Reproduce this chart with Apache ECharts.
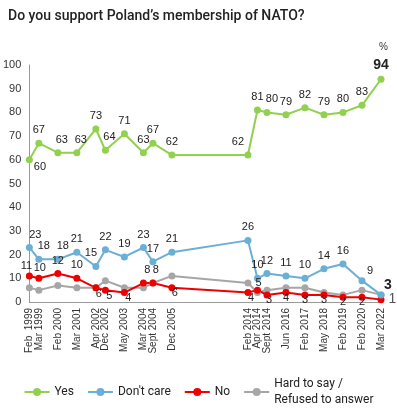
<!DOCTYPE html>
<html>
<head>
<meta charset="utf-8">
<script src="https://cdn.jsdelivr.net/npm/echarts@6/dist/echarts.min.js"></script>
<style>
html,body{margin:0;padding:0;background:#fff;}
#chart{width:397px;height:416px;}
</style>
</head>
<body>
<div id="chart"></div>
<script>
// Category slots (blank slots keep the reference's uneven spacing)
const categories = ['Feb  1999','Mar 1999','','Feb 2000','','Mar 2001','','Apr 2002','Dec 2002','','May 2003','','Mar 2004','Sept 2004','','Dec 2005','','','','','','','','Feb 2014','Apr 2014','Sept 2014','','Jun 2016','','Feb 2017','','May 2018','','Feb 2019','','Feb 2020','','Mar 2022'];

// Values per survey (19 surveys, in order)
const yesValues      = [60, 67, 63, 63, 73, 64, 71, 63, 67, 62, 62, 81, 80, 79, 82, 79, 80, 83, 94];
const dontCareValues = [23, 18, 18, 21, 15, 22, 19, 23, 17, 21, 26, 10, 12, 11, 10, 14, 16, 9, 3];
const noValues       = [11, 10, 12, 10, 6, 5, 4, 8, 8, 6, 4, 5, 3, 4, 3, 3, 2, 2, 1];
const hardValues     = [6, 5, 7, 6, 6, 9, 6, 6, 8, 11, 8, 4, 5, 6, 6, 4, 3, 5, 3];

const yTicks = [0, 10, 20, 30, 40, 50, 60, 70, 80, 90, 100];

const seriesNames = ['Yes', "Don't care", 'No', 'Hard to say /\nRefused to answer'];

// Label styling per survey (style only)
const yesLabel = [
  {position:'right', offset:[-3,7]}, {}, {offset:[4,0]}, {offset:[4,0]}, {}, {offset:[4,0]}, {}, {}, {}, {},
  {offset:[-10,0]}, {}, {offset:[5,0]}, {}, {}, {}, {}, {}, {big:true}
];
const dcLabel = [
  {offset:[6,0]}, {offset:[5,0]}, {offset:[5,0]}, {}, {offset:[-5,0]}, {}, {}, {}, {}, {},
  {}, {}, {}, {}, {}, {}, {}, {offset:[8,3]}, {big:true, offset:[7,5]}
];
const noLabel = [
  {offset:[-3,3]}, {offset:[1,3]}, {}, {}, {position:'bottom', offset:[3,-5]}, {position:'bottom', offset:[4,-5]}, {position:'bottom', offset:[4,-6]},
  {offset:[4,0]}, {hide:true}, {position:'bottom', offset:[3,-6]},
  {position:'bottom', offset:[3,-6]}, {offset:[1,6]}, {position:'bottom', offset:[2,-6]}, {position:'bottom', offset:[0,-6]},
  {position:'bottom', offset:[0,-6]}, {position:'bottom', offset:[0,-6]}, {position:'bottom', offset:[0,-6]}, {position:'bottom', offset:[0,-6]},
  {position:'right', offset:[0,0], big:true, color:'#555', weight:'normal'}
];
const hardLabel = hardValues.map((v, i) => (i === 8 ? {offset:[3,0]} : {hide:true}));

function build(values, labels) {
  const out = [];
  let k = 0;
  categories.forEach(c => {
    if (c === '') { out.push(null); return; }
    const v = values[k];
    const l = labels[k] || {};
    k++;
    const label = {
      show: !l.hide,
      position: l.position || 'top',
      offset: l.offset || [0, 0],
      distance: l.position === 'bottom' ? 2 : 4,
      fontSize: l.big ? 14 : 11,
      fontWeight: l.big ? (l.weight || 'bold') : 'normal',
      color: l.color || '#222',
      fontFamily: 'Liberation Sans, Arial, sans-serif'
    };
    out.push({ value: v, label: label });
  });
  return out;
}

const chart = echarts.init(document.getElementById('chart'), null, {renderer: 'canvas'});

function lineSeries(name, color, values, labels) {
  return {
    name: name,
    type: 'line',
    data: build(values, labels),
    connectNulls: true,
    symbol: 'circle',
    symbolSize: 7,
    lineStyle: {color: color, width: 2},
    itemStyle: {color: color},
    emphasis: {disabled: true},
    animation: false
  };
}

chart.setOption({
  animation: false,
  backgroundColor: '#fff',
  title: [
    {
      text: 'Do you support Poland\u2019s membership of NATO?',
      left: 3, top: 4,
      textStyle: {fontFamily: 'Roboto, sans-serif', fontSize: 14, fontWeight: 500, color: '#222'}
    },
    {
      text: '%',
      right: 4, top: 37,
      textStyle: {fontFamily: 'Liberation Sans, Arial, sans-serif', fontSize: 10, fontWeight: 'normal', color: '#333'}
    }
  ],
  grid: {left: 27, right: 16, top: 65, bottom: 114, containLabel: false},
  legend: {
    top: 363,
    left: 'center',
    itemWidth: 25,
    itemHeight: 10,
    itemGap: 13,
    textStyle: {fontFamily: 'Roboto, sans-serif', fontSize: 12, color: '#222'},
    data: [
      seriesNames[0], seriesNames[1], seriesNames[2],
      {
        name: seriesNames[3],
        textStyle: {
          fontFamily: 'Roboto, sans-serif', fontSize: 12, color: '#222',
          lineHeight: 16,
          padding: [16, 0, 0, 0]
        }
      }
    ]
  },
  xAxis: {
    type: 'category',
    data: categories,
    boundaryGap: false,
    axisLine: {lineStyle: {color: '#999', width: 1}},
    axisTick: {show: false},
    axisLabel: {interval: 0, rotate: 90, fontSize: 10, color: '#333', margin: 6, fontFamily: 'Liberation Sans, Arial, sans-serif'},
    splitLine: {show: false}
  },
  yAxis: {
    type: 'value',
    min: yTicks[0],
    max: yTicks[yTicks.length - 1],
    interval: yTicks[1] - yTicks[0],
    axisLine: {show: true, lineStyle: {color: '#999', width: 1}},
    axisTick: {show: false},
    splitLine: {show: false},
    axisLabel: {fontSize: 11, color: '#333', margin: 8, fontFamily: 'Liberation Sans, Arial, sans-serif'}
  },
  series: [
    lineSeries(seriesNames[3], '#a6a6a6', hardValues, hardLabel),
    lineSeries(seriesNames[2], '#ee0000', noValues, noLabel),
    lineSeries(seriesNames[1], '#6baed6', dontCareValues, dcLabel),
    lineSeries(seriesNames[0], '#92d050', yesValues, yesLabel)
  ]
});
</script>
</body>
</html>
